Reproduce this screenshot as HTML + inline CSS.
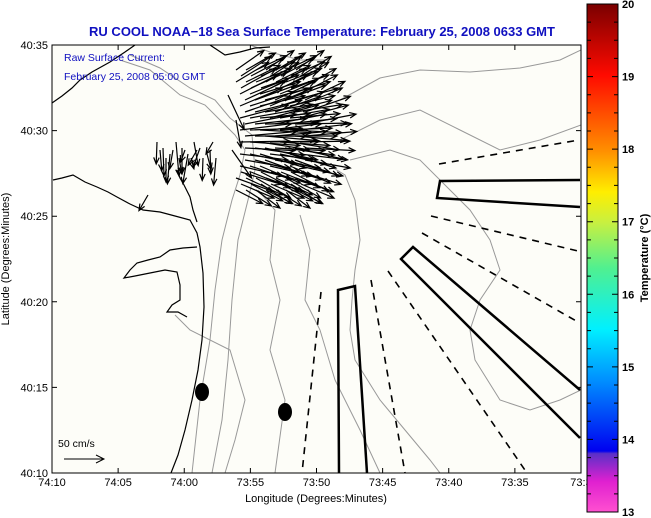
<!DOCTYPE html>
<html><head><meta charset="utf-8"><style>
html,body{margin:0;padding:0;background:#fff;}
svg{display:block;font-family:"Liberation Sans",Arial,sans-serif;}
</style></head><body>
<svg id="chart" width="651" height="518" viewBox="0 0 651 518" xmlns="http://www.w3.org/2000/svg">
<defs>
<linearGradient id="cb" x1="0" y1="0" x2="0" y2="1">
<stop offset="0" stop-color="#7a0000"/>
<stop offset="0.14" stop-color="#ff0a00"/>
<stop offset="0.29" stop-color="#ff9000"/>
<stop offset="0.37" stop-color="#ffee00"/>
<stop offset="0.43" stop-color="#c8f040"/>
<stop offset="0.52" stop-color="#50f090"/>
<stop offset="0.64" stop-color="#00f0ff"/>
<stop offset="0.74" stop-color="#0090ff"/>
<stop offset="0.88" stop-color="#0000f0"/>
<stop offset="0.885" stop-color="#5a30c8"/>
<stop offset="0.94" stop-color="#e020d0"/>
<stop offset="1" stop-color="#ff50d0"/>
</linearGradient>
<clipPath id="plotclip"><rect x="52" y="45" width="529" height="428"/></clipPath>
</defs>
<rect x="0" y="0" width="651" height="518" fill="#fff"/>
<rect x="52" y="45" width="529" height="428" fill="#fdfdf8"/>
<text x="322" y="36" text-anchor="middle" font-size="13" font-weight="bold" fill="#1010c0">RU COOL  NOAA−18  Sea Surface Temperature:  February 25, 2008 0633 GMT</text>

<g clip-path="url(#plotclip)">
<g fill="none" stroke="#999" stroke-width="1">
<path d="M120,60 L150,70 L180,95 L205,105 L220,120 L235,135 L245,150 L240,175 L232,200 L222,240 L215,290 L210,340 L200,400 L192,473"/>
<path d="M130,55 L160,68 L190,88 L215,100 L230,118 L252,135 L255,170 L248,200 L238,240 L232,300 L228,360 L222,420 L212,473"/>
<path d="M258,190 L275,210 L270,260 L280,300 L270,350 L285,400 L275,473"/>
<path d="M320,160 L345,175 L355,200 L360,240 L355,270 L352,300 L350,330 L355,360 L380,400 L405,430 L430,460 L440,473"/>
<path d="M300,215 L310,250 L305,300 L320,330 L335,380 L360,430 L380,473"/>
<path d="M340,100 L380,78 L420,70 L470,72 L520,68 L560,60 L581,50"/>
<path d="M340,140 L380,120 L420,110 L460,130 L500,150 L540,140 L581,125"/>
<path d="M350,160 L390,150 L420,160 L450,190 L470,210 L490,240 L500,270 L480,300 L470,330 L475,360 L500,400 L530,410 L560,400 L581,390"/>
<path d="M250,45 L270,52 L300,60 L330,60"/>
<path d="M175,315 L190,330 L230,350 L245,400 L235,440 L225,473"/>
</g>
<g fill="none" stroke="#000" stroke-width="1.2">
<path d="M52,103 L62,96 L72,88 L80,80 L92,72 L110,62 L125,52 L135,45"/>
<path d="M53,180 L62,178 L73,175 L85,182 L97,187 L108,192 L117,197 L130,204 L143,210 L160,212 L175,216 L190,220 L197,233 L200,247 L203,273 L204,307 L202,340 L198,370 L192,400 L185,430 L178,455 L171,473"/>
<path d="M177,170 L180,178 L184,185 L190,197 L193,210 L197,222"/>
<path d="M197,247 L183,248 L170,250 L160,257 L148,260 L137,263 L130,270 L124,278 L135,276 L150,273 L165,270 L177,272 L180,285 L180,300 L172,305 L167,312 L178,312 L187,317"/>
<path d="M210,45 L225,55 L240,52 L255,48 L270,47"/>
</g>
<g fill="none" stroke="#000" stroke-width="2.5">
<path d="M580,180 L440,181 L437,198 L580,207"/>
<path d="M580,390 L413,247 L401,259 L580,438"/>
<path d="M339,473 L338,290 L355,286 L367,473"/>
</g>
<g fill="none" stroke="#000" stroke-width="1.6" stroke-dasharray="7,6">
<path d="M439,164 L579,140"/>
<path d="M431,216 L578,251"/>
<path d="M422,233 L578,322"/>
<path d="M388,271 L527,473"/>
<path d="M371,280 L405,473"/>
<path d="M321,292 L302,473"/>
</g>
<ellipse cx="202" cy="392" rx="7" ry="9" fill="#000"/>
<ellipse cx="285" cy="412" rx="7" ry="9" fill="#000"/>
<g id="vectors" stroke="#000" stroke-width="1.2" fill="none"></g>
</g>

<text x="64" y="61" font-size="10.5" fill="#1010c0">Raw Surface Current:</text>
<text x="64" y="80" font-size="10.5" fill="#1010c0">February 25, 2008 05:00 GMT</text>
<text x="58" y="447" font-size="10.5" fill="#000">50 cm/s</text>
<g stroke="#000" fill="none"><path d="M64,459 L104,459 M96,455 L104,459 L96,463"/></g>

<rect x="52" y="45" width="529" height="428" fill="none" stroke="#000" stroke-width="1"/>
<g id="axes" font-size="11" fill="#000"></g>
<text x="316" y="502" text-anchor="middle" font-size="11">Longitude (Degrees:Minutes)</text>
<text transform="translate(9,259) rotate(-90)" text-anchor="middle" font-size="11">Latitude (Degrees:Minutes)</text>

<rect x="587" y="4" width="31" height="508" fill="url(#cb)" stroke="#000" stroke-width="1"/>
<g id="cbaxis" font-size="11" font-weight="bold"></g>
<text transform="translate(648,258) rotate(-90)" text-anchor="middle" font-size="11" font-weight="bold">Temperature (°C)</text>
</svg>
<script>
const xTickLabels = ["74:10","74:05","74:00","73:55","73:50","73:45","73:40","73:35","73:3"];
const xTickMinutes = [0,5,10,15,20,25,30,35,40];
const yTickLabels = ["40:35","40:30","40:25","40:20","40:15","40:10"];
const yTickMinutes = [35,30,25,20,15,10];
const cbValues = [13,14,15,16,17,18,19,20];
// current field rows: origin y (px rows), angles (deg, screen), lengths
const rowY = [70,76,82,88,94,100,106,112,118,124,130,136,142,148,154,160,166,172,178,184,190];
const rowAngle = [-30,-28,-26,-24,-22,-20,-18,-14,-10,-6,-2,0,4,8,12,15,18,22,25,28,32];
const rowLen = [34,36,38,40,42,44,46,48,50,52,52,52,50,50,48,46,44,42,40,36,30];
const colX = [236,246,256,266,276,286,296];
// nearshore southward currents
const nsX = [157,163,170,176,182,188,194,200,207,213];
const nsLen = [22,28,30,34,26,30,24,20,16,14];
const nsAngle = [92,88,95,85,90,100,80,110,75,120];

const X0=52,X1=581,Y0=45,Y1=473;
function xs(m){return X0+(X1-X0)*m/40;}
function ys(m){return Y1-(Y1-Y0)*(m-10)/25;}
function cbY(v){return 512-(512-4)*(v-13)/7;}
const NS="http://www.w3.org/2000/svg";
function mk(tag,attrs,parent){const e=document.createElementNS(NS,tag);for(const k in attrs)e.setAttribute(k,attrs[k]);parent.appendChild(e);return e;}

const ax=document.getElementById('axes');
xTickMinutes.forEach((m,i)=>{
  const x=xs(m);
  const t=mk('path',{d:`M${x},${Y1} L${x},${Y1-5} M${x},${Y0} L${x},${Y0+5}`,stroke:'#000'},ax);
  
  
  const l=mk('text',{x:x,y:486,'text-anchor':'middle'},ax);
  l.textContent=xTickLabels[i];
  
  
});
yTickMinutes.forEach((m,i)=>{
  const y=ys(m);
  const t=mk('path',{d:`M${X0},${y} L${X0+5},${y} M${X1},${y} L${X1-5},${y}`,stroke:'#000'},ax);
  
  
  const l=mk('text',{x:48,y:y+4,'text-anchor':'end'},ax);
  l.textContent=yTickLabels[i];
  
  
});
const cb=document.getElementById('cbaxis');
for(let v=13;v<=20.001;v+=0.25){
  const y=cbY(v);const major=Math.abs(v-Math.round(v))<0.01;
  const t=mk('path',{d:`M587,${y} L${major?593:591},${y} M618,${y} L${major?612:614},${y}`,stroke:'#000'},cb);
  
  
}
cbValues.forEach(v=>{
  const l=mk('text',{x:622,y:cbY(v)+4},cb);
  l.textContent=v;
  
  
});
const vg=document.getElementById('vectors');
function arrow(x,y,ang,len){
  const a=ang*Math.PI/180;const x2=x+len*Math.cos(a),y2=y+len*Math.sin(a);
  const h=7,b=0.4;
  const p1x=x2-h*Math.cos(a-b),p1y=y2-h*Math.sin(a-b),p2x=x2-h*Math.cos(a+b),p2y=y2-h*Math.sin(a+b);
  const p=mk('path',{d:`M${x.toFixed(1)},${y.toFixed(1)} L${x2.toFixed(1)},${y2.toFixed(1)} M${p1x.toFixed(1)},${p1y.toFixed(1)} L${x2.toFixed(1)},${y2.toFixed(1)} L${p2x.toFixed(1)},${p2y.toFixed(1)}`},vg);
  
  
}
rowY.forEach((y,r)=>{
  colX.forEach((cx,c)=>{
    const x=cx+((r%2)?5:0)+(r>3&&r<17?4:0);
    arrow(x,y,rowAngle[r]+(c%3-1)*5,rowLen[r]);
  });
});
arrow(228,95,65,38);
arrow(232,150,55,34);
arrow(236,120,80,28);
nsX.forEach((x,i)=>{
  arrow(x,142+(i%3)*6,nsAngle[i],nsLen[i]);
  arrow(x+3,150+(i%2)*8,nsAngle[(i+3)%nsAngle.length],nsLen[(i+4)%nsLen.length]*0.8);
});
arrow(148,195,120,18);
</script>
</body></html>
